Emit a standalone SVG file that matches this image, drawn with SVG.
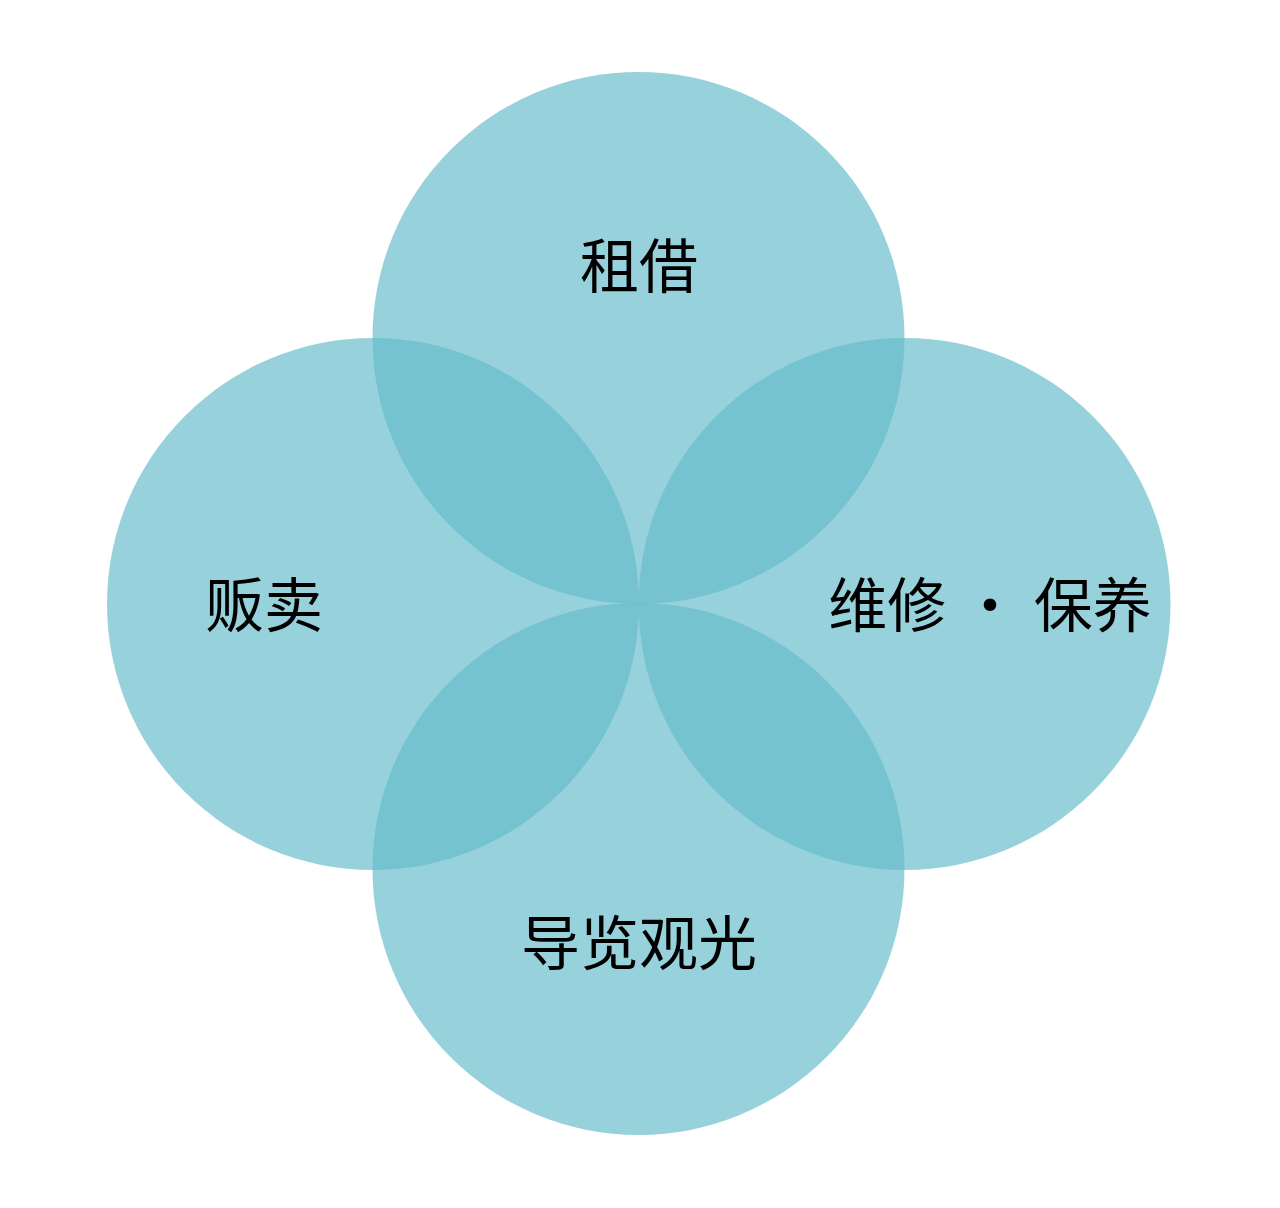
<svg xmlns="http://www.w3.org/2000/svg" width="1280" height="1208" viewBox="0 0 1280 1208">
<style>
.c{fill:rgb(100,188,203);fill-opacity:0.67}
.t{font-family:"Noto Sans CJK SC","Noto Sans",sans-serif;font-size:59px;fill:#000;text-anchor:middle}
</style>
<rect width="1280" height="1208" fill="#fff"/>
<g id="top"><circle class="c" cx="638.5" cy="338" r="266"/><text class="t" x="639" y="288">租借</text></g>
<g id="left"><circle class="c" cx="373" cy="604" r="266"/><text class="t" x="264" y="627">贩卖</text></g>
<g id="right"><circle class="c" cx="904.5" cy="604" r="266"/><text class="t" x="990" y="627" word-spacing="1">维修 · 保养</text></g>
<g id="bottom"><circle class="c" cx="638.5" cy="869" r="266"/><text class="t" x="639" y="965">导览观光</text></g>
<g id="connectors"></g>
</svg>
